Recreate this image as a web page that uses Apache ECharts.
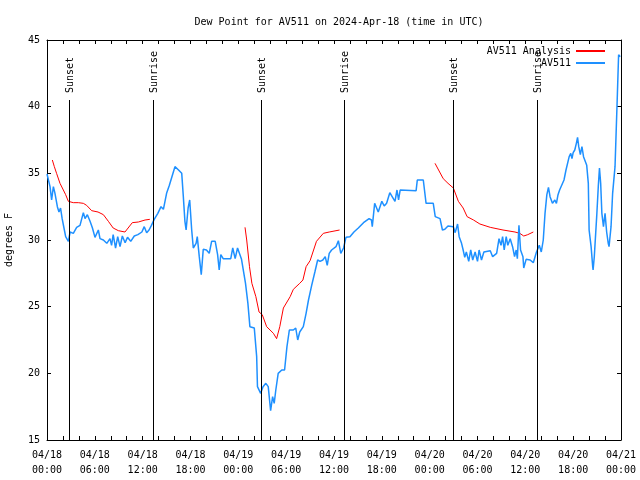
<!DOCTYPE html>
<html>
<head>
<meta charset="utf-8">
<script src="https://cdn.jsdelivr.net/npm/echarts@6/dist/echarts.min.js"></script>
<style>html,body{margin:0;padding:0;background:#fff}#c{width:640px;height:480px}</style>
</head>
<body>
<div id="c"></div>
<script>
// Observations (AV511): hours since 04/18 00:00 UTC, dew point in F
var obsHours = [0.0,0.38,0.58,0.8,1.0,1.3,1.5,1.7,1.9,2.13,2.34,2.68,2.9,3.3,3.72,4.14,4.56,4.77,5.06,5.4,5.7,6.02,6.44,6.65,7.07,7.5,7.9,8.1,8.3,8.6,8.87,9.16,9.45,9.8,10.1,10.5,10.95,11.4,11.9,12.2,12.5,12.8,13.1,13.45,13.9,14.3,14.6,15.0,15.35,15.6,16.05,16.5,16.9,17.1,17.3,17.45,17.7,17.9,18.15,18.35,18.7,18.85,19.1,19.35,19.6,20.0,20.35,20.65,21.1,21.4,21.6,21.8,22.1,23.05,23.3,23.6,23.9,24.1,24.4,24.6,24.9,25.2,25.45,26.0,26.3,26.4,26.8,27.1,27.45,27.75,28.05,28.3,28.5,28.7,29.0,29.45,29.8,30.1,30.4,30.9,31.2,31.45,31.7,32.15,32.5,32.8,33.2,33.6,33.95,34.25,34.6,34.9,35.15,35.4,35.7,35.9,36.25,36.55,36.85,37.2,37.5,38.0,38.5,39.05,39.7,40.4,40.7,40.8,41.1,41.55,42.0,42.3,42.6,43.0,43.35,43.65,43.9,44.1,44.3,46.3,46.45,47.2,47.55,48.45,48.7,49.3,49.6,49.9,50.3,50.97,51.2,51.5,51.7,52.0,52.2,52.4,52.6,52.9,53.15,53.4,53.7,54.0,54.2,54.5,54.8,55.05,55.6,55.9,56.4,56.7,56.95,57.15,57.35,57.6,57.8,58.1,58.4,58.65,58.85,59.0,59.2,59.4,59.7,59.8,60.1,60.6,61.0,61.2,61.4,61.5,61.75,62.0,62.25,62.47,62.7,62.9,63.1,63.4,63.7,63.9,64.1,64.3,64.5,64.85,65.1,65.3,65.5,65.7,65.85,66.0,66.2,66.4,66.55,66.7,66.9,67.1,67.3,67.5,67.7,67.9,68.0,68.25,68.45,68.5,68.65,68.95,69.15,69.3,69.45,69.6,69.8,70.0,70.2,70.4,70.5,70.75,70.95,71.25,71.55,71.7,71.9];
var obsDew = [34.95,34.0,33.0,34.0,33.5,32.5,32.1,32.4,31.6,30.9,30.25,29.9,30.6,30.5,30.95,31.1,32.05,31.6,31.9,31.4,30.9,30.2,30.75,30.1,30.0,29.75,30.1,29.6,30.4,29.4,30.25,29.5,30.3,29.8,30.2,29.9,30.3,30.4,30.6,31.0,30.55,30.75,31.1,31.55,32.0,32.5,32.3,33.5,34.1,34.1,35.5,35.25,35.0,33.25,31.4,30.75,32.4,33.0,30.75,29.4,29.75,30.25,28.75,27.4,29.3,29.25,29.0,29.9,29.9,28.9,27.75,28.9,28.6,28.6,29.4,28.6,29.4,29.3,28.55,28.55,26.75,25.25,23.5,23.4,21.25,19.0,18.5,19.0,19.25,19.0,17.2,18.25,17.75,18.75,20.0,20.25,20.25,22.0,23.25,23.25,23.4,22.5,23.1,23.5,24.5,25.5,26.6,27.6,28.5,28.4,28.5,28.75,28.1,29.0,29.25,29.1,29.5,29.95,29.0,29.4,30.2,30.25,30.6,30.9,31.3,31.6,31.5,31.0,32.75,32.1,32.9,32.55,32.75,33.55,33.2,32.9,33.75,33.0,33.75,33.7,34.5,34.5,32.75,32.75,31.75,31.6,30.75,30.8,31.05,31.0,30.55,31.2,30.25,29.75,29.25,28.7,29.1,28.4,29.25,28.5,29.1,28.4,29.25,28.5,29.1,29.2,29.2,28.75,29.0,30.1,29.6,30.25,29.25,30.25,29.6,30.1,29.5,28.75,29.25,28.6,31.1,29.25,28.75,27.9,28.55,28.5,28.3,28.4,29.1,29.25,29.6,29.1,30.0,32.0,33.4,33.95,33.25,32.75,33.0,32.75,33.4,33.75,33.9,34.5,35.25,35.4,36.25,36.5,36.1,36.55,36.75,37.25,37.7,37.0,36.4,37.0,36.25,36.25,35.6,34.25,30.75,29.5,28.0,27.75,28.75,31.75,34.0,35.4,34.25,32.0,31.0,32.0,30.6,29.75,29.5,31.0,33.5,35.5,41.0,43.9,43.75];

// Analysis (AV511 Analysis): null separates runs
var anaHours = [0.67,0.92,1.2,1.63,2.05,2.34,2.68,3.3,3.93,4.56,4.97,5.6,6.4,7.07,7.7,8.3,8.95,9.78,10.7,11.46,12.3,12.9,
  18.0,
  24.84,25.05,25.4,25.7,26.2,26.6,27.0,27.55,28.4,28.8,29.2,29.65,30.5,30.9,31.7,32.1,32.5,33.0,33.8,34.66,35.4,36.7,
  42.0,
  48.67,49.7,50.3,50.97,51.6,52.2,52.7,53.5,54.3,55.6,57.2,58.7,59.3,59.8,60.3,61.0];
var anaDew = [36.0,35.5,35.0,34.25,33.75,33.4,32.9,32.8,32.8,32.75,32.6,32.2,32.1,31.9,31.4,30.9,30.7,30.6,31.3,31.35,31.5,31.55,
  null,
  30.95,30.0,28.0,26.75,25.75,24.6,24.4,23.5,23.0,22.6,23.5,24.9,25.75,26.3,26.75,27.0,28.0,28.45,29.9,30.5,30.6,30.75,
  null,
  35.75,34.6,34.25,33.9,32.9,32.4,31.75,31.5,31.2,30.95,30.75,30.6,30.5,30.3,30.4,30.6];

// Sun events
var sunHours = [2.8, 13.34, 26.89, 37.3, 50.97, 61.42];
var sunLabels = ['Sunset', 'Sunrise', 'Sunset', 'Sunrise', 'Sunset', 'Sunrise'];
var sunLineTop = 40.5;

var xTickLabels = ['04/18\n00:00','04/18\n06:00','04/18\n12:00','04/18\n18:00','04/19\n00:00','04/19\n06:00','04/19\n12:00','04/19\n18:00','04/20\n00:00','04/20\n06:00','04/20\n12:00','04/20\n18:00','04/21\n00:00'];

var FONT = 'DejaVu Sans Mono';
function zip(a, b) { return a.map(function (v, i) { return [v, b[i]]; }); }

var chart = echarts.init(document.getElementById('c'), null, {renderer: 'canvas'});
var axisBase = {
  type: 'value', min: 0, max: 72, interval: 2,
  axisLine: {show: true, onZero: false, lineStyle: {color: '#000', width: 1}},
  axisTick: {show: true, inside: true, length: 4, lineStyle: {color: '#000'}},
  splitLine: {show: false}
};
chart.setOption({
  animation: false,
  backgroundColor: '#fff',
  title: {
    text: 'Dew Point for AV511 on 2024-Apr-18 (time in UTC)',
    left: 334, textAlign: 'center', top: 12,
    textStyle: {fontFamily: FONT, fontSize: 10, fontWeight: 'normal', color: '#000'}
  },
  grid: {left: 47, right: 19, top: 40, bottom: 40, containLabel: false, outerBoundsMode: 'none'},
  legend: {
    orient: 'vertical', right: 30, top: 41, align: 'right',
    itemWidth: 29, itemHeight: 2, itemGap: 2,
    textStyle: {fontFamily: FONT, fontSize: 10, color: '#000'},
    data: [{name: 'AV511 Analysis', icon: 'rect'}, {name: 'AV511', icon: 'rect'}]
  },
  xAxis: [
    Object.assign({}, axisBase, {
      position: 'bottom',
      axisLabel: {
        fontFamily: FONT, fontSize: 10, color: '#000', margin: 8, lineHeight: 15,
        formatter: function (v) { return v % 6 === 0 ? xTickLabels[v / 6] : ''; }
      }
    }),
    Object.assign({}, axisBase, {position: 'top', axisLabel: {show: false}})
  ],
  yAxis: [
    {
      type: 'value', min: 15, max: 45, interval: 5, position: 'left',
      name: 'degrees F', nameLocation: 'middle', nameGap: 33, nameRotate: 90,
      nameTextStyle: {fontFamily: FONT, fontSize: 10, color: '#000'},
      axisLine: {show: true, onZero: false, lineStyle: {color: '#000'}},
      axisTick: {show: true, inside: true, length: 4, lineStyle: {color: '#000'}},
      axisLabel: {fontFamily: FONT, fontSize: 10, color: '#000', margin: 7},
      splitLine: {show: false}
    },
    {
      type: 'value', min: 15, max: 45, interval: 5, position: 'right',
      axisLine: {show: true, onZero: false, lineStyle: {color: '#000'}},
      axisTick: {show: true, inside: true, length: 4, lineStyle: {color: '#000'}},
      axisLabel: {show: false},
      splitLine: {show: false}
    }
  ],
  series: [
    {
      name: 'AV511 Analysis', type: 'line', data: zip(anaHours, anaDew),
      showSymbol: false, connectNulls: false,
      lineStyle: {color: '#ff0000', width: 1}, itemStyle: {color: '#ff0000'}, z: 3
    },
    {
      name: 'AV511', type: 'line', data: zip(obsHours, obsDew),
      showSymbol: false,
      lineStyle: {color: '#1e90ff', width: 1.5}, itemStyle: {color: '#1e90ff'}, z: 4
    },
    {
      name: 'sun', type: 'custom', clip: false, z: 5,
      data: sunHours.map(function (h, i) { return [h, sunLineTop, i]; }),
      renderItem: function (params, api) {
        var h = api.value(0);
        var bottom = api.coord([h, 15]);
        var top = api.coord([h, sunLineTop]);
        var lbl = sunLabels[api.value(2)];
        return {
          type: 'group',
          children: [
            {type: 'line', shape: {x1: Math.round(bottom[0]) + 0.5, y1: bottom[1], x2: Math.round(top[0]) + 0.5, y2: top[1]},
             style: {stroke: '#000', lineWidth: 1}},
            {type: 'text', x: Math.round(top[0]) + 1, y: top[1] - 7, rotation: Math.PI / 2,
             style: {text: lbl, fill: '#000', font: '10px ' + FONT, align: 'left', verticalAlign: 'middle',
                     textAlign: 'left', textVerticalAlign: 'middle'}}
          ]
        };
      }
    }
  ]
});
</script>
</body>
</html>
